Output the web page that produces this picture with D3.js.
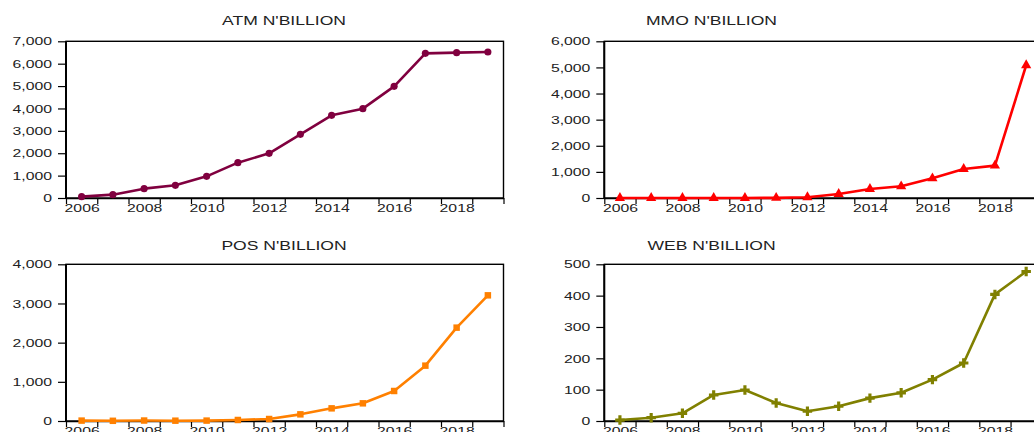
<!DOCTYPE html>
<html>
<head>
<meta charset="utf-8">
<script src="https://cdn.jsdelivr.net/npm/d3@7/dist/d3.min.js"></script>
<style>
  html, body { margin: 0; padding: 0; background: #fff; overflow: hidden; }
  svg { display: block; }
  text { font-family: "Liberation Sans", Arial, sans-serif; fill: #222; }
</style>
</head>
<body>
<svg id="chart" width="1034" height="432"></svg>
<script>
// Annual values, N'billion, 2006-2019
const years = [2006, 2007, 2008, 2009, 2010, 2011, 2012, 2013, 2014, 2015, 2016, 2017, 2018, 2019];
const atmValues = [60, 149, 417, 566, 968, 1578, 1995, 2844, 3693, 3991, 4988, 6462, 6492, 6522];
const mmoValues = [0, 0, 0, 0, 2, 6, 31, 153, 345, 447, 753, 1111, 1239, 5083];
const posValues = [10, 5, 12, 8, 10, 26, 51, 170, 323, 451, 766, 1413, 2383, 3208];
const webValues = [3, 10.6, 24.5, 83, 99, 57.5, 31, 47, 73, 90, 132, 185, 404, 477];

const titles = ["ATM N'BILLION", "MMO N'BILLION", "POS N'BILLION", "WEB N'BILLION"];
const xTickLabels = [2006, 2008, 2010, 2012, 2014, 2016, 2018];
const atmTicks = [0, 1000, 2000, 3000, 4000, 5000, 6000, 7000];
const mmoTicks = [0, 1000, 2000, 3000, 4000, 5000, 6000];
const posTicks = [0, 1000, 2000, 3000, 4000];
const webTicks = [0, 100, 200, 300, 400, 500];

const svg = d3.select("#chart");
const SX = 1.37;           // horizontal stretch of the lettering
const fmt = d3.format(",");

const panels = [
  { title: titles[0], values: atmValues, ticks: atmTicks, color: "#80003f", symbol: d3.symbolCircle, size: 40,
    left: 66, top: 41.3, width: 437.5, height: 156.7, titleX: 284, titleY: 25 },
  { title: titles[1], values: mmoValues, ticks: mmoTicks, color: "#ff0000", symbol: d3.symbolTriangle, size: 45,
    left: 604.3, top: 41.3, width: 437.5, height: 156.7, titleX: 711.5, titleY: 25 },
  { title: titles[2], values: posValues, ticks: posTicks, color: "#ff8000", symbol: d3.symbolSquare, size: 42,
    left: 66, top: 264.3, width: 437.5, height: 156.7, titleX: 284, titleY: 250 },
  { title: titles[3], values: webValues, ticks: webTicks, color: "#808000", symbol: d3.symbolCross, size: 50,
    left: 604.3, top: 264.3, width: 437.5, height: 156.7, titleX: 711.5, titleY: 250 }
];

panels.forEach(p => {
  const g = svg.append("g").attr("transform", `translate(${p.left},${p.top})`);
  const x = d3.scaleLinear().domain([2006, 2020]).range([0, p.width]);
  const y = d3.scaleLinear().domain([0, d3.max(p.ticks)]).range([p.height, 0]);

  // frame
  g.append("rect").attr("x", 0).attr("y", 0).attr("width", p.width).attr("height", p.height)
    .attr("fill", "none").attr("stroke", "#000").attr("stroke-width", 1.4);
  g.append("line").attr("x1", 0).attr("x2", 0).attr("y1", 0).attr("y2", p.height)
    .attr("stroke", "#000").attr("stroke-width", 2);

  // year-boundary tick marks
  const xMarks = d3.axisBottom(x).tickValues(d3.range(2006, 2021)).tickFormat("").tickSize(6).tickSizeOuter(0);
  const gxm = g.append("g").attr("transform", `translate(0,${p.height})`).call(xMarks);
  gxm.select(".domain").attr("stroke-width", 1.6);
  gxm.selectAll(".tick line").attr("stroke-width", 1.2);

  // year labels centred on each observation
  const xLabels = d3.axisBottom(x).tickValues(xTickLabels.map(v => v + 0.5))
    .tickFormat(v => String(Math.floor(v))).tickSize(0).tickPadding(6);
  const gxl = g.append("g").attr("transform", `translate(0,${p.height})`).call(xLabels);
  gxl.select(".domain").remove();
  gxl.selectAll("text").attr("font-size", 11.5).attr("font-family", null)
    .attr("fill", "#222").attr("transform", `scale(${SX},1)`);

  // value axis
  const yAxis = d3.axisLeft(y).tickValues(p.ticks).tickFormat(fmt).tickSize(8).tickPadding(6).tickSizeOuter(0);
  const gy = g.append("g").call(yAxis);
  gy.select(".domain").remove();
  gy.selectAll(".tick line").attr("stroke-width", 1.2);
  gy.selectAll("text").attr("font-size", 11.5).attr("font-family", null).attr("fill", "#222")
    .attr("x", -14 / SX).attr("transform", `scale(${SX},1)`);

  // series line and markers
  const pts = years.map((yr, i) => [yr + 0.5, p.values[i]]);
  g.append("path").datum(pts)
    .attr("fill", "none").attr("stroke", p.color).attr("stroke-width", 2.6).attr("stroke-linejoin", "round")
    .attr("d", d3.line().x(d => x(d[0])).y(d => y(d[1])));
  g.selectAll(".mark").data(pts).join("path").attr("class", "mark")
    .attr("transform", d => `translate(${x(d[0])},${y(d[1])})`)
    .attr("d", d3.symbol().type(p.symbol).size(p.size))
    .attr("fill", p.color);

  // title
  svg.append("text").attr("transform", `translate(${p.titleX},${p.titleY}) scale(${SX - 0.02},1)`)
    .attr("text-anchor", "middle").attr("font-size", 13).text(p.title);
});
</script>
</body>
</html>
